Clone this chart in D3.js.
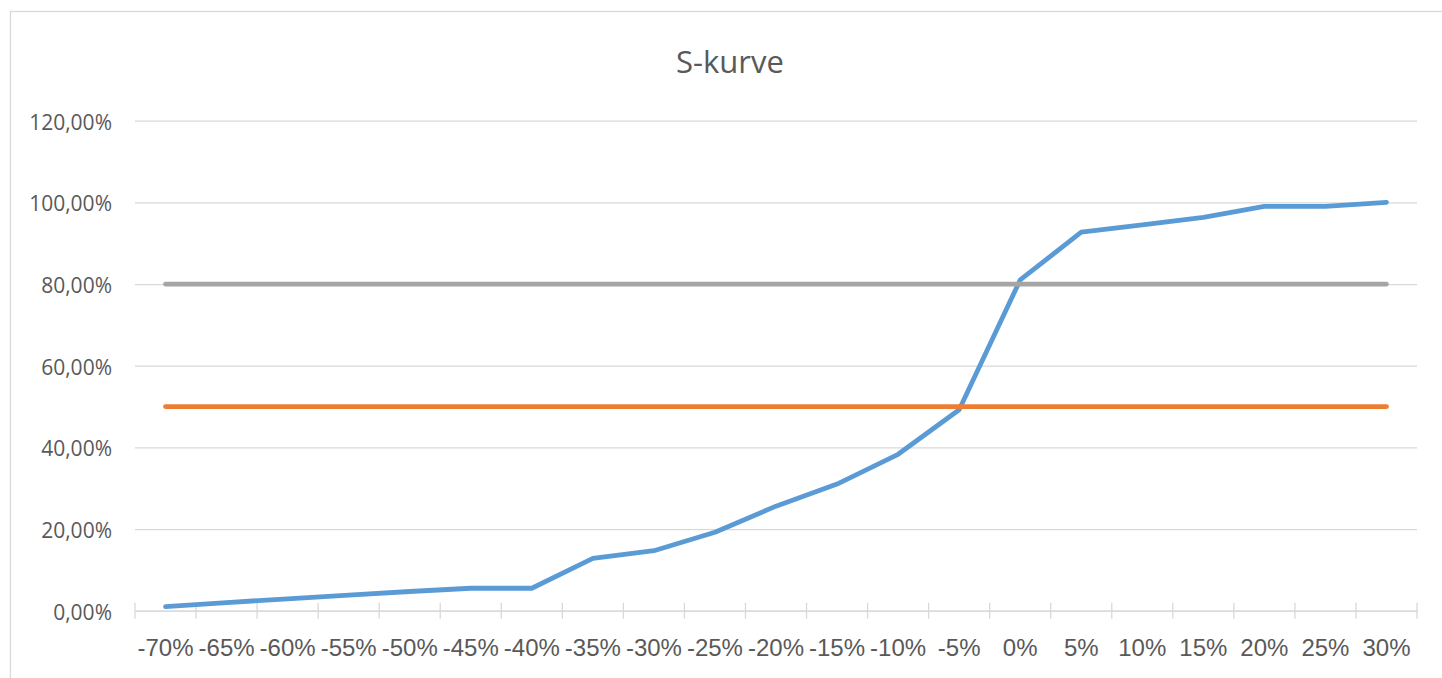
<!DOCTYPE html>
<html>
<head>
<meta charset="utf-8">
<script src="https://cdn.jsdelivr.net/npm/d3@7"></script>
<style>
  body { margin: 0; background: #fff; }
  svg { display: block; }
</style>
</head>
<body>
<svg id="chart" width="1442" height="678"></svg>
<script>
// S-kurve data
var categories = ['-70%','-65%','-60%','-55%','-50%','-45%','-40%','-35%','-30%','-25%','-20%',
                  '-15%','-10%','-5%','0%','5%','10%','15%','20%','25%','30%'];
var sCurve = [1.0, 2.0, 2.9, 3.8, 4.7, 5.5, 5.5, 12.8, 14.7, 19.2, 25.6,
              31.0, 38.3, 49.2, 81.0, 92.7, 94.5, 96.3, 99.0, 99.0, 100.0];
var line50 = [50,50,50,50,50,50,50,50,50,50,50,50,50,50,50,50,50,50,50,50,50];
var line80 = [80,80,80,80,80,80,80,80,80,80,80,80,80,80,80,80,80,80,80,80,80];
var yTicks = [0, 20, 40, 60, 80, 100, 120];

var plot = { left: 135, right: 1417, top: 120.7, bottom: 610.7 };
var textColor = '#595959';

var svg = d3.select('#chart');

// outer chart frame (runs off the right / bottom of the picture)
svg.append('rect')
  .attr('x', 10.5).attr('y', 11.5)
  .attr('width', 1500).attr('height', 700)
  .attr('fill', 'none').attr('stroke', '#d9d9d9').attr('stroke-width', 1.3);

svg.append('text')
  .attr('x', 730).attr('y', 73)
  .attr('text-anchor', 'middle')
  .style('font-family', 'Open Sans, sans-serif')
  .style('font-size', '31px')
  .style('fill', textColor)
  .text('S-kurve');

var x = d3.scaleBand().domain(categories).range([plot.left, plot.right]);
var y = d3.scaleLinear().domain([0, 120]).range([plot.bottom, plot.top]);
var cx = function(c){ return x(c) + x.bandwidth() / 2; };

var locale = d3.formatLocale({ decimal: ',', thousands: '.', grouping: [3], currency: ['', ''] });
var fmt = locale.format('.2f');

// y axis + gridlines
var yAxis = svg.append('g')
  .attr('transform', 'translate(' + plot.left + ',0)')
  .call(d3.axisLeft(y).tickValues(yTicks)
    .tickSize(-(plot.right - plot.left))
    .tickPadding(23)
    .tickFormat(function(d){ return fmt(d) + '%'; }));
yAxis.select('.domain').remove();
yAxis.selectAll('line').attr('stroke', '#d9d9d9').attr('stroke-width', 1.3);
yAxis.selectAll('text')
  .attr('dy', '0.4em')
  .style('font-family', 'Open Sans, sans-serif')
  .style('font-size', '21px')
  .style('fill', textColor);

// x axis: labels from the axis, cross tick marks on the band edges
var xAxis = svg.append('g')
  .attr('transform', 'translate(0,' + plot.bottom + ')')
  .call(d3.axisBottom(x).tickSize(0).tickPadding(28));
xAxis.select('.domain').attr('stroke', '#d9d9d9').attr('stroke-width', 1.3);
xAxis.selectAll('text')
  .style('font-family', 'Liberation Sans, Arial, sans-serif')
  .style('font-size', '24px')
  .style('fill', textColor);

var edges = categories.map(function(c){ return x(c); }).concat([plot.right]);
svg.append('g').selectAll('line')
  .data(edges).enter().append('line')
  .attr('x1', function(d){ return d; }).attr('x2', function(d){ return d; })
  .attr('y1', plot.bottom - 8).attr('y2', plot.bottom + 8)
  .attr('stroke', '#d9d9d9').attr('stroke-width', 1.3);

var line = d3.line()
  .x(function(d, i){ return cx(categories[i]); })
  .y(function(d){ return y(d); });

var series = [
  { values: sCurve, color: '#5b9bd5' },
  { values: line50, color: '#ed7d31' },
  { values: line80, color: '#a5a5a5' }
];

svg.append('g').selectAll('path')
  .data(series).enter().append('path')
  .attr('d', function(s){ return line(s.values); })
  .attr('fill', 'none')
  .attr('stroke', function(s){ return s.color; })
  .attr('stroke-width', 4.8)
  .attr('stroke-linecap', 'round')
  .attr('stroke-linejoin', 'round');
</script>
</body>
</html>
